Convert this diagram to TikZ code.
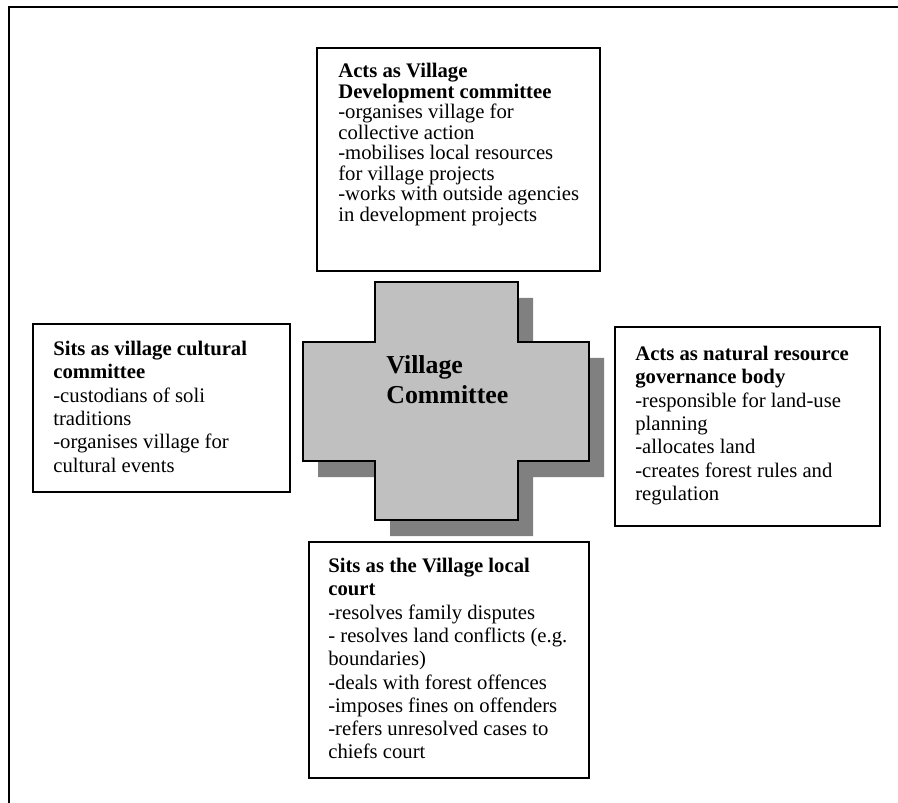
\documentclass[tikz,border=0pt]{standalone}
\usepackage{fontspec}
\setmainfont{Liberation Serif}
\usetikzlibrary{fit}
\definecolor{crossgray}{HTML}{C0C0C0}
\definecolor{shadowgray}{HTML}{808080}
\tikzset{
  x=0.58pt, y=-0.58pt,
  role_box/.style = {draw=black, line width=1pt, fill=white, inner sep=0pt},
  role_text/.style = {anchor=north west, inner sep=0pt, align=left, font=\fontsize{12}{13.5}\selectfont},
  dev_text/.style = {role_text, font=\fontsize{12}{11.9}\selectfont},
  cross_text/.style = {anchor=north west, inner sep=0pt, align=left, font=\fontsize{15}{17.4}\selectfont\bfseries}
}

\begin{document}
\begin{tikzpicture}
	\useasboundingbox (0,0) rectangle (898,803);
	\draw[line width=1.2pt] (9,803) -- (9,7) -- (898,7);

	\node[role_box, fit={(317,48) (600,271)}] (devbox) {};
	\node[dev_text] (devtext) at (338,63) {\textbf{Acts as Village}\\\textbf{Development committee}\\-organises village for\\collective action\\-mobilises local resources\\for village projects\\-works with outside agencies\\in development projects};

	\node[role_box, fit={(33,324) (290,492)}] (culbox) {};
	\node[role_text] (cultext) at (53,341) {\textbf{Sits as village cultural}\\\textbf{committee}\\-custodians of soli\\traditions\\-organises village for\\cultural events};

	\node[role_box, fit={(615,327) (880,526)}] (natbox) {};
	\node[role_text] (nattext) at (635,346) {\textbf{Acts as natural resource}\\\textbf{governance body}\\-responsible for land-use\\planning\\-allocates land\\-creates forest rules and\\regulation};

	\node[role_box, fit={(309,542) (589,778)}] (courtbox) {};
	\node[role_text] (courttext) at (328,558) {\textbf{Sits as the Village local}\\\textbf{court}\\-resolves family disputes\\- resolves land conflicts (e.g.\\boundaries)\\-deals with forest offences\\-imposes fines on offenders\\-refers unresolved cases to\\chiefs court};

	\fill[shadowgray, shift={(15,16)}] (375,282) -- (518,282) -- (518,342) -- (589,342) -- (589,461) -- (518,461) -- (518,520) -- (375,520) -- (375,461) -- (303,461) -- (303,342) -- (375,342) -- cycle;
	\draw[line width=1pt, fill=crossgray] (375,282) -- (518,282) -- (518,342) -- (589,342) -- (589,461) -- (518,461) -- (518,520) -- (375,520) -- (375,461) -- (303,461) -- (303,342) -- (375,342) -- cycle;
	\node[cross_text] (vctext) at (386,355) {Village\\Committee};
\end{tikzpicture}
\end{document}
